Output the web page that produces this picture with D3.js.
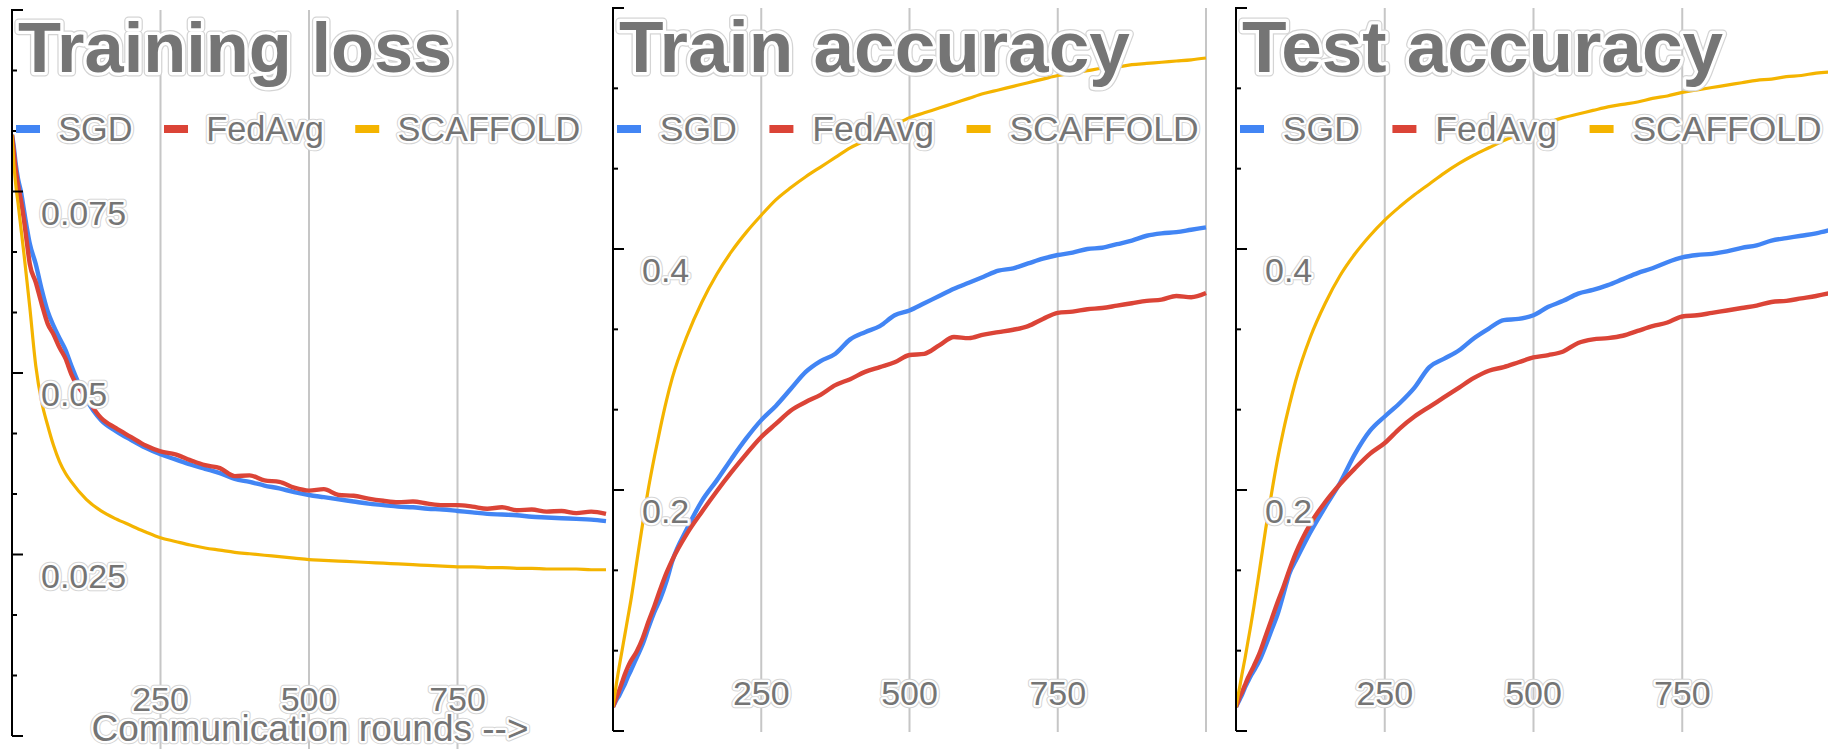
<!DOCTYPE html>
<html>
<head>
<meta charset="utf-8">
<script src="https://cdn.jsdelivr.net/npm/d3@7"></script>
<style>
  html, body { margin: 0; padding: 0; background: #fff; overflow: hidden; }
  svg { display: block; }
  text { font-family: "Liberation Sans", Arial, sans-serif; }
</style>
</head>
<body>
<svg id="chart" width="1828" height="749"></svg>
<script>
// Communication rounds at which each series is sampled
const rounds = [0, 3, 6, 10, 15, 20, 25, 30, 40, 50, 60, 70, 80, 90, 100,
  125, 150, 175, 200, 225, 250, 275, 300, 325, 350, 375, 400, 425, 450, 475,
  500, 525, 550, 575, 600, 625, 650, 675, 700, 725, 750, 775, 800, 825, 850,
  875, 900, 925, 950, 975, 1000];

const seriesNames = ["SGD", "FedAvg", "SCAFFOLD"];

// Training loss
const lossSGD = [.0828, .0812, .0790, .0768, .0750, .0725, .0700, .0678, .0650, .0615, .0585, .0565, .0548, .0532, .0510,
  .0464, .0435, .0420, .0408, .0397, .0388, .0381, .0374, .0368, .0362, .0354, .0350, .0345, .0341, .0336,
  .0332, .0329, .0326, .0323, .0320, .0318, .0316, .0315, .0313, .0312, .0310, .0308, .0306, .0305, .0304,
  .0302, .0301, .0300, .0299, .0298, .0296];
const lossFedAvg = [.0828, .0805, .0782, .0760, .0738, .0712, .0680, .0650, .0625, .0595, .0568, .0553, .0535, .0520, .0498,
  .0466, .0438, .0424, .0412, .0400, .0392, .0388, .0380, .0373, .0369, .0358, .0359, .0352, .0350, .0342,
  .0338, .0340, .0332, .0331, .0327, .0324, .0322, .0323, .0320, .0318, .0318, .0316, .0313, .0315, .0311,
  .0312, .0309, .0310, .0307, .0309, .0306];
const lossScaffold = [.0828, .0790, .0762, .0735, .0700, .0665, .0628, .0590, .0510, .0460, .0428, .0400, .0378, .0362, .0350,
  .0326, .0310, .0299, .0290, .0281, .0273, .0268, .0263, .0259, .0256, .0253, .0251, .0249, .0247, .0245,
  .0243, .0242, .0241, .0240, .0239, .0238, .0237, .0236, .0235, .0234, .0233, .0233, .0232, .0232, .0231,
  .0231, .0230, .0230, .0230, .0229, .0229];

// Train accuracy
const trainSGD = [.020, .023, .026, .029, .034, .039, .045, .050, .061, .072, .086, .099, .110, .124, .141,
  .168, .191, .208, .226, .243, .258, .270, .284, .298, .307, .313, .325, .331, .336, .345,
  .349, .355, .361, .367, .372, .377, .382, .384, .388, .392, .395, .397, .400, .401, .404,
  .407, .411, .413, .414, .416, .418];
const trainFedAvg = [.020, .024, .028, .033, .040, .047, .053, .058, .066, .077, .091, .104, .118, .131, .142,
  .164, .182, .199, .215, .230, .244, .255, .266, .273, .279, .287, .292, .298, .302, .306,
  .312, .313, .320, .327, .326, .329, .331, .333, .336, .342, .347, .348, .350, .351, .353,
  .355, .357, .358, .361, .360, .3635];
const trainScaffold = [.020, .030, .040, .052, .066, .080, .094, .108, .140, .172, .202, .228, .252, .274, .293,
  .328, .356, .379, .398, .414, .428, .441, .451, .460, .468, .476, .484, .490, .497, .503,
  .509, .513, .517, .521, .525, .529, .532, .535, .538, .541, .544, .546, .548, .550, .551,
  .553, .554, .555, .556, .557, .5585];

// Test accuracy
const testSGD = [.020, .023, .026, .030, .036, .041, .046, .050, .059, .071, .084, .097, .114, .131, .141,
  .165, .186, .206, .230, .249, .261, .272, .285, .302, .309, .316, .326, .334, .341, .342,
  .345, .352, .357, .363, .366, .370, .375, .380, .384, .389, .393, .395, .396, .398, .401,
  .403, .407, .409, .411, .413, .416];
const testFedAvg = [.020, .024, .028, .032, .038, .044, .049, .054, .065, .079, .093, .107, .120, .134, .147,
  .172, .190, .205, .218, .230, .239, .251, .261, .269, .277, .285, .293, .299, .302, .306,
  .310, .312, .315, .322, .325, .326, .328, .332, .336, .339, .344, .345, .347, .349, .351,
  .353, .356, .357, .359, .361, .3635];
const testScaffold = [.020, .028, .036, .047, .060, .074, .088, .103, .135, .168, .198, .226, .250, .271, .290,
  .327, .355, .378, .396, .411, .424, .435, .445, .454, .463, .471, .478, .484, .490, .495,
  .500, .505, .509, .512, .515, .518, .520, .522, .525, .527, .530, .532, .534, .536, .538,
  .540, .541, .543, .544, .546, .547];

// Axis tick values
const roundTicks = [250, 500, 750];
const lossTickLabels = [0.075, 0.05, 0.025];
const accTickLabels = [0.4, 0.2];

const colors = ["#4285F4", "#DB4437", "#F4B400"];
const textColor = "#757575";
const gridColor = "#c6c6c6";

const svg = d3.select("#chart");

// Text drawn with a white halo and a faint grey rim, on top of the plot
function haloText(g, x, y, str, size, opts = {}) {
  const big = size > 50;
  const grp = g.append("g");
  const common = sel => sel
    .attr("x", x).attr("y", y)
    .attr("font-size", size)
    .attr("font-weight", opts.bold ? "bold" : "normal")
    .attr("text-anchor", opts.anchor || "start")
    .attr("stroke-linejoin", "round")
    .text(str);
  grp.append("text").call(common)
    .attr("fill", "none").attr("stroke", "#d4d4d4")
    .attr("stroke-width", big ? 9 : 6.5);
  grp.append("text").call(common)
    .attr("fill", textColor).attr("stroke", "#fff")
    .attr("stroke-width", big ? 6.5 : 4.5)
    .attr("paint-order", "stroke");
  return grp;
}

const panels = [
  { title: "Training loss", series: [lossSGD, lossFedAvg, lossScaffold], k: 0.985,
    x0: 12, x1: 606, yTop: 10, yBot: 736, yMax: 0.1, major: 0.025,
    labels: lossTickLabels, grid: [250, 500, 750], gridBottom: 749, xLabelY: 711, axisTitle: true },
  { title: "Train accuracy", series: [trainSGD, trainFedAvg, trainScaffold], k: 1.02,
    x0: 613, x1: 1206, yTop: 8, yBot: 731, yMax: 0.6, major: 0.2,
    labels: accTickLabels, grid: [250, 500, 750, 1000], gridBottom: 732, xLabelY: 705 },
  { title: "Test accuracy", series: [testSGD, testFedAvg, testScaffold], k: 1.02,
    x0: 1236, x1: 1831, yTop: 8, yBot: 731, yMax: 0.6, major: 0.2,
    labels: accTickLabels, grid: [250, 500, 750, 1000], gridBottom: 732, xLabelY: 705 }
];

panels.forEach((p, pi) => {
  const g = svg.append("g");
  const x = d3.scaleLinear().domain([0, 1000]).range([p.x0, p.x1]);
  const y = d3.scaleLinear().domain([0, p.yMax]).range([p.yBot, p.yTop]);

  // vertical gridlines
  g.append("g").selectAll("line").data(p.grid).join("line")
    .attr("x1", d => x(d)).attr("x2", d => x(d))
    .attr("y1", p.yTop).attr("y2", p.gridBottom)
    .attr("stroke", gridColor).attr("stroke-width", 2);

  // curves
  const clipId = "clip" + pi;
  svg.append("clipPath").attr("id", clipId).append("rect")
    .attr("x", p.x0).attr("y", 0).attr("width", p.x1 - p.x0 + 2).attr("height", 749);
  const line = d3.line()
    .x((d, i) => x(rounds[i]))
    .y(d => y(d))
    .curve(d3.curveMonotoneX);
  const curves = g.append("g").attr("clip-path", `url(#${clipId})`);
  p.series.forEach((vals, si) => {
    curves.append("path")
      .datum(vals)
      .attr("d", line)
      .attr("fill", "none")
      .attr("stroke", colors[si])
      .attr("stroke-width", si === 2 ? 3.2 : 4.4)
      .attr("stroke-linejoin", "round");
  });

  // y axis with major and minor ticks
  const step = p.major / 3;
  const tickVals = d3.range(0, Math.round(p.yMax / step) + 1).map(k => k * step);
  g.append("line")
    .attr("x1", p.x0).attr("x2", p.x0)
    .attr("y1", p.yTop - 1).attr("y2", p.yBot)
    .attr("stroke", "#000").attr("stroke-width", 2);
  g.append("g").selectAll("line").data(tickVals).join("line")
    .attr("x1", p.x0)
    .attr("x2", (d, i) => p.x0 + (i % 3 === 0 ? 11 : 5))
    .attr("y1", d => y(d)).attr("y2", d => y(d))
    .attr("stroke", "#000").attr("stroke-width", 2);

  // y tick labels sit just below their tick, inside the plot
  p.labels.forEach(v => {
    haloText(g, p.x0 + 29, y(v) + 33, String(v), 34);
  });

  // x tick labels
  roundTicks.forEach(r => {
    haloText(g, x(r), p.xLabelY, String(r), 34, { anchor: "middle" });
  });

  if (p.axisTitle) {
    haloText(g, 310, 741, "Communication rounds -->", 37, { anchor: "middle" });
  }

  // title
  haloText(g, p.x0 + 6, 72, p.title, 71.5 * p.k, { bold: true });

  // legend
  let lx = p.x0 + 4;
  const ly = 129;
  seriesNames.forEach((name, si) => {
    g.append("rect")
      .attr("x", lx).attr("y", ly - 4)
      .attr("width", 24).attr("height", 8)
      .attr("fill", colors[si]);
    lx += 24 + 18.5 * p.k;
    const t = haloText(g, lx, ly + 12, name, 34.8 * p.k);
    const w = t.select("text").node().getComputedTextLength();
    lx += w + 32 * p.k;
  });
});
</script>
</body>
</html>
